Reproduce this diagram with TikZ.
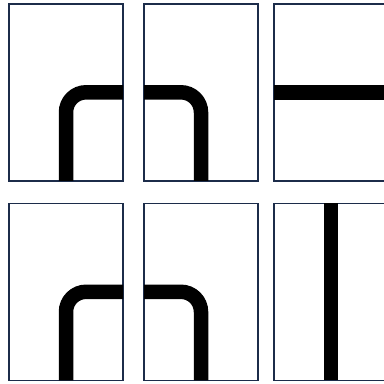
\documentclass[tikz,border=0pt]{standalone}
\usetikzlibrary{positioning}

\definecolor{tileedge}{RGB}{28,44,74}

\begin{document}
\begin{tikzpicture}[
  x=1pt, y=-1pt,
  tile/.style={draw=tileedge, line width=1.6pt, fill=white, inner sep=0pt,
               outer sep=0pt, minimum width=114pt, minimum height=177pt},
  track/.style={line width=14.5pt, black, rounded corners=20pt},
]
\useasboundingbox (0,0) rectangle (384,384);
\clip (0,0) rectangle (384,384);

% two rows of tiles
\node[tile] (a1) at (66,92.3) {};
\node[tile, right=21pt of a1] (a2) {};
\node[tile, right=16pt of a2] (a3) {};
\node[tile, below=22.5pt of a1] (b1) {};
\node[tile, right=21pt of b1] (b2) {};
\node[tile, right=16pt of b2] (b3) {};

% track pieces
\draw[track] (a1.south) -- (a1.center) -- (a1.east);
\draw[track] (a2.west) -- (a2.center) -- (a2.south);
\draw[track] (a3.west) -- (a3.east);
\draw[track] (b1.south) -- (b1.center) -- (b1.east);
\draw[track] (b2.west) -- (b2.center) -- (b2.south);
\draw[track] (b3.north) -- (b3.south);
\end{tikzpicture}
\end{document}
